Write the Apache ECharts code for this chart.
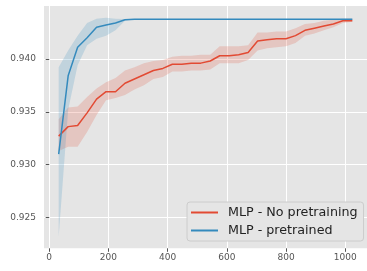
<!DOCTYPE html>
<html>
<head>
<meta charset="utf-8">
<script src="https://cdn.jsdelivr.net/npm/echarts@6/dist/echarts.min.js"></script>
<style>
  html, body { margin: 0; padding: 0; background: #fff; }
  #chart { width: 367px; height: 271px; }
</style>
</head>
<body>
<div id="chart"></div>
<script>
// training set sizes
const sizes = [32, 64, 96, 128, 160, 192, 224, 256, 288, 320, 352, 384, 416, 448, 480, 512,
  544, 576, 608, 640, 672, 704, 736, 768, 800, 832, 864, 896, 928, 960, 992, 1024];

// MLP - No pretraining
const noPreMean = [0.9327, 0.9336, 0.9337, 0.9349, 0.9362, 0.9369, 0.9369, 0.9377, 0.9381, 0.9385, 0.9389, 0.9391, 0.9395, 0.9395, 0.9396, 0.9396,
  0.9398, 0.9403, 0.9403, 0.9404, 0.9406, 0.9417, 0.9418, 0.9419, 0.9419, 0.9422, 0.9427, 0.9429, 0.9431, 0.9433, 0.9436, 0.9436];
const noPreUpper = [0.9343, 0.9354, 0.9355, 0.9364, 0.9372, 0.9378, 0.9382, 0.9389, 0.9392, 0.9396, 0.9398, 0.9399, 0.9402, 0.9403, 0.9403, 0.9404,
  0.9404, 0.9412, 0.9412, 0.9412, 0.9413, 0.9425, 0.9425, 0.9426, 0.9426, 0.9429, 0.9433, 0.9434, 0.9436, 0.9437, 0.9438, 0.9438];
const noPreLower = [0.9313, 0.9317, 0.9317, 0.9331, 0.9347, 0.9361, 0.9363, 0.9366, 0.9371, 0.9375, 0.9381, 0.9383, 0.9388, 0.9388, 0.9389, 0.9389,
  0.9390, 0.9396, 0.9396, 0.9396, 0.9399, 0.9408, 0.9410, 0.9411, 0.9412, 0.9415, 0.9422, 0.9424, 0.9427, 0.9430, 0.9434, 0.9435];

// MLP - pretrained
const preMean = [0.9310, 0.9384, 0.9411, 0.9420, 0.9430, 0.9432, 0.9434, 0.9437, 0.94375, 0.94375, 0.94375, 0.94375, 0.94375, 0.94375, 0.94375, 0.94375,
  0.94375, 0.94375, 0.94375, 0.94375, 0.94375, 0.94375, 0.94375, 0.94375, 0.94375, 0.94375, 0.94375, 0.94375, 0.94375, 0.94375, 0.94375, 0.94375];
const preUpper = [0.9392, 0.9408, 0.9422, 0.9434, 0.9438, 0.9439, 0.9438, 0.94378, 0.94378, 0.94378, 0.94378, 0.94378, 0.94378, 0.94378, 0.94378, 0.94378,
  0.94378, 0.94378, 0.94378, 0.94378, 0.94378, 0.94378, 0.94378, 0.94378, 0.94378, 0.94378, 0.94378, 0.94378, 0.94378, 0.94378, 0.94378, 0.94378];
const preLower = [0.9232, 0.9352, 0.9394, 0.9413, 0.9419, 0.9422, 0.9427, 0.9436, 0.94372, 0.94372, 0.94372, 0.94372, 0.94372, 0.94372, 0.94372, 0.94372,
  0.94372, 0.94372, 0.94372, 0.94372, 0.94372, 0.94372, 0.94372, 0.94372, 0.94372, 0.94372, 0.94372, 0.94372, 0.94372, 0.94372, 0.94372, 0.94372];

const xTicks = [0, 200, 400, 600, 800, 1000];
const yTicks = [0.925, 0.930, 0.935, 0.940];

const RED = '#E24A33';
const BLUE = '#348ABD';

const pts = (ys) => sizes.map((x, i) => [x, ys[i]]);

// shaded band between lower and upper, drawn as one polygon
function band(lower, upper, color) {
  return {
    type: 'custom',
    silent: true,
    clip: true,
    data: [[sizes[0], lower[0]]],
    encode: { x: 0, y: 1 },
    renderItem: (params, api) => {
      const top = sizes.map((x, i) => api.coord([x, upper[i]]));
      const bot = sizes.map((x, i) => api.coord([x, lower[i]])).reverse();
      return {
        type: 'polygon',
        shape: { points: top.concat(bot) },
        style: { fill: color, opacity: 0.2 }
      };
    },
    z: 2
  };
}

const chart = echarts.init(document.getElementById('chart'));

const option = {
  animation: false,
  backgroundColor: '#ffffff',
  textStyle: { fontFamily: 'DejaVu Sans' },
  grid: { left: 44, top: 6, right: -4, bottom: 22.7, backgroundColor: '#E5E5E5', show: true, borderWidth: 0 },
  legend: {
    data: ['MLP - No pretraining', 'MLP - pretrained'],
    orient: 'vertical',
    left: 187, top: 202,
    width: 177,
    icon: 'rect',
    itemWidth: 27, itemHeight: 2,
    itemGap: 5,
    padding: [4, 6, 4, 4],
    backgroundColor: '#E5E5E5',
    borderColor: '#CCCCCC',
    borderWidth: 1,
    borderRadius: 3,
    textStyle: { fontSize: 12.7, color: '#222', padding: [0, 0, 0, 5], fontFamily: 'DejaVu Sans' }
  },
  xAxis: {
    type: 'value', min: -17.6, max: 1073.6,
    axisLine: { show: false },
    axisTick: { show: true, length: 3.5, customValues: xTicks, lineStyle: { color: '#555' } },
    axisLabel: { customValues: xTicks, fontSize: 9, color: '#555', margin: 5,
      formatter: (v) => String(v) },
    splitLine: { show: true, lineStyle: { color: '#ffffff', width: 1 } }
  },
  yAxis: {
    type: 'value', min: 0.9221, max: 0.9450,
    axisLine: { show: false },
    axisTick: { show: true, length: 3.5, customValues: yTicks, lineStyle: { color: '#555' } },
    axisLabel: { customValues: yTicks, fontSize: 9, color: '#555', margin: 8,
      formatter: (v) => v.toFixed(3) },
    splitLine: { show: true, lineStyle: { color: '#ffffff', width: 1 } }
  },
  series: [
    band(noPreLower, noPreUpper, RED),
    band(preLower, preUpper, BLUE),
    {
      name: 'MLP - No pretraining', type: 'line', data: pts(noPreMean), symbol: 'none',
      color: RED, lineStyle: { color: RED, width: 1.5 }, z: 5
    },
    {
      name: 'MLP - pretrained', type: 'line', data: pts(preMean), symbol: 'none',
      color: BLUE, lineStyle: { color: BLUE, width: 1.5 }, z: 5
    }
  ]
};

chart.setOption(option);
</script>
</body>
</html>
